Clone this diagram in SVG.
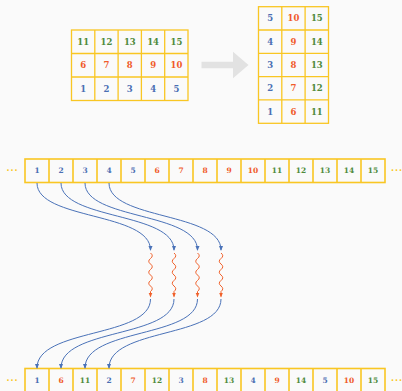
<svg xmlns="http://www.w3.org/2000/svg" width="402" height="391" viewBox="0 0 402 391">
<defs>
<style>
.c{fill:none;stroke:#f9c623;stroke-width:1.3}
.a{fill:none;stroke:#f9c623;stroke-width:1.6}
.t{font-family:"DejaVu Serif","Liberation Serif",serif;font-weight:bold;text-anchor:middle;dominant-baseline:central}
.g{font-size:8.5px}
.s{font-size:7.5px}
.b{fill:#4a6fb3}
.r{fill:#f05a2a}
.n{fill:#4f8a3c}
.d{font-family:"DejaVu Sans",sans-serif;font-size:8px;font-weight:bold;fill:#f9c623;text-anchor:middle;letter-spacing:1px}
.bl{fill:none;stroke:#4a72b8;stroke-width:1}
.sq{fill:none;stroke:#f0602a;stroke-width:1}
</style>
<marker id="mb" markerWidth="5" markerHeight="5" refX="4" refY="2.5" orient="auto" markerUnits="userSpaceOnUse"><path d="M0,0.5 L5,2.5 L0,4.5 z" fill="#4a72b8"/></marker>
<marker id="mr" markerWidth="5" markerHeight="5" refX="4" refY="2.5" orient="auto" markerUnits="userSpaceOnUse"><path d="M0,0.5 L5,2.5 L0,4.5 z" fill="#f0602a"/></marker>
</defs>
<rect width="402" height="391" fill="#fafafa"/>

<g id="grid-left">
<rect class="c" x="71.5" y="30" width="116.5" height="70.5"/>
<path class="c" d="M94.8,30V100.5M118.1,30V100.5M141.4,30V100.5M164.7,30V100.5M71.5,53.5H188M71.5,77H188"/>
<g class="t g">
<text class="n" x="83.2" y="41.8">11</text><text class="n" x="106.5" y="41.8">12</text><text class="n" x="129.8" y="41.8">13</text><text class="n" x="153.1" y="41.8">14</text><text class="n" x="176.4" y="41.8">15</text>
<text class="r" x="83.2" y="65.3">6</text><text class="r" x="106.5" y="65.3">7</text><text class="r" x="129.8" y="65.3">8</text><text class="r" x="153.1" y="65.3">9</text><text class="r" x="176.4" y="65.3">10</text>
<text class="b" x="83.2" y="88.8">1</text><text class="b" x="106.5" y="88.8">2</text><text class="b" x="129.8" y="88.8">3</text><text class="b" x="153.1" y="88.8">4</text><text class="b" x="176.4" y="88.8">5</text>
</g>
</g>

<g id="big-arrow">
<path d="M201.5,61.7H233V51.7L248.5,65L233,78.3V68.3H201.5z" fill="#e2e2e2"/>
</g>

<g id="grid-right">
<rect class="c" x="258.5" y="6.7" width="70" height="116.6"/>
<path class="c" d="M281.8,6.7V123.3M305.1,6.7V123.3M258.5,30H328.5M258.5,53.3H328.5M258.5,76.6H328.5M258.5,99.9H328.5"/>
<g class="t g">
<text class="b" x="270.2" y="18.4">5</text><text class="r" x="293.5" y="18.4">10</text><text class="n" x="316.8" y="18.4">15</text>
<text class="b" x="270.2" y="41.7">4</text><text class="r" x="293.5" y="41.7">9</text><text class="n" x="316.8" y="41.7">14</text>
<text class="b" x="270.2" y="65">3</text><text class="r" x="293.5" y="65">8</text><text class="n" x="316.8" y="65">13</text>
<text class="b" x="270.2" y="88.3">2</text><text class="r" x="293.5" y="88.3">7</text><text class="n" x="316.8" y="88.3">12</text>
<text class="b" x="270.2" y="111.6">1</text><text class="r" x="293.5" y="111.6">6</text><text class="n" x="316.8" y="111.6">11</text>
</g>
</g>

<g id="array-top">
<text class="d" x="12.5" y="173">···</text>
<text class="d" x="397" y="173">···</text>
<rect class="a" x="25" y="159" width="360" height="23.5"/>
<path class="a" d="M49,159v23.5M73,159v23.5M97,159v23.5M121,159v23.5M145,159v23.5M169,159v23.5M193,159v23.5M217,159v23.5M241,159v23.5M265,159v23.5M289,159v23.5M313,159v23.5M337,159v23.5M361,159v23.5"/>
<g class="t s">
<text class="b" x="37" y="170.8">1</text><text class="b" x="61" y="170.8">2</text><text class="b" x="85" y="170.8">3</text><text class="b" x="109" y="170.8">4</text><text class="b" x="133" y="170.8">5</text>
<text class="r" x="157" y="170.8">6</text><text class="r" x="181" y="170.8">7</text><text class="r" x="205" y="170.8">8</text><text class="r" x="229" y="170.8">9</text><text class="r" x="253" y="170.8">10</text>
<text class="n" x="277" y="170.8">11</text><text class="n" x="301" y="170.8">12</text><text class="n" x="325" y="170.8">13</text><text class="n" x="349" y="170.8">14</text><text class="n" x="373" y="170.8">15</text>
</g>
</g>

<g id="array-bottom">
<text class="d" x="12.5" y="383">···</text>
<text class="d" x="397" y="383">···</text>
<rect class="a" x="25" y="368.5" width="360" height="24"/>
<path class="a" d="M49,368.5v24M73,368.5v24M97,368.5v24M121,368.5v24M145,368.5v24M169,368.5v24M193,368.5v24M217,368.5v24M241,368.5v24M265,368.5v24M289,368.5v24M313,368.5v24M337,368.5v24M361,368.5v24"/>
<g class="t s">
<text class="b" x="37" y="380.3">1</text><text class="r" x="61" y="380.3">6</text><text class="n" x="85" y="380.3">11</text><text class="b" x="109" y="380.3">2</text><text class="r" x="133" y="380.3">7</text>
<text class="n" x="157" y="380.3">12</text><text class="b" x="181" y="380.3">3</text><text class="r" x="205" y="380.3">8</text><text class="n" x="229" y="380.3">13</text><text class="b" x="253" y="380.3">4</text>
<text class="r" x="277" y="380.3">9</text><text class="n" x="301" y="380.3">14</text><text class="b" x="325" y="380.3">5</text><text class="r" x="349" y="380.3">10</text><text class="n" x="373" y="380.3">15</text>
</g>
</g>

<g id="connectors">
<path class="bl" marker-end="url(#mb)" d="M37,183C37,220 150.5,212 150.5,250"/>
<path class="bl" marker-end="url(#mb)" d="M61,183C61,220 174,212 174,250"/>
<path class="bl" marker-end="url(#mb)" d="M85,183C85,220 197.5,212 197.5,250"/>
<path class="bl" marker-end="url(#mb)" d="M109,183C109,220 221,212 221,250"/>
<path class="sq" marker-end="url(#mr)" d="M150.5,253q3.5,2.75 0,5.5t0,5.5t0,5.5t0,5.5t0,5.5t0,5.5t0,5.5v5"/>
<path class="sq" marker-end="url(#mr)" d="M174,253q3.5,2.75 0,5.5t0,5.5t0,5.5t0,5.5t0,5.5t0,5.5t0,5.5v5"/>
<path class="sq" marker-end="url(#mr)" d="M197.5,253q3.5,2.75 0,5.5t0,5.5t0,5.5t0,5.5t0,5.5t0,5.5t0,5.5v5"/>
<path class="sq" marker-end="url(#mr)" d="M221,253q3.5,2.75 0,5.5t0,5.5t0,5.5t0,5.5t0,5.5t0,5.5t0,5.5v5"/>
<path class="bl" marker-end="url(#mb)" d="M150.5,299C150.5,338 37,328 37,368"/>
<path class="bl" marker-end="url(#mb)" d="M174,299C174,338 61,328 61,368"/>
<path class="bl" marker-end="url(#mb)" d="M197.5,299C197.5,338 85,328 85,368"/>
<path class="bl" marker-end="url(#mb)" d="M221,299C221,338 109,328 109,368"/>
</g>
</svg>
